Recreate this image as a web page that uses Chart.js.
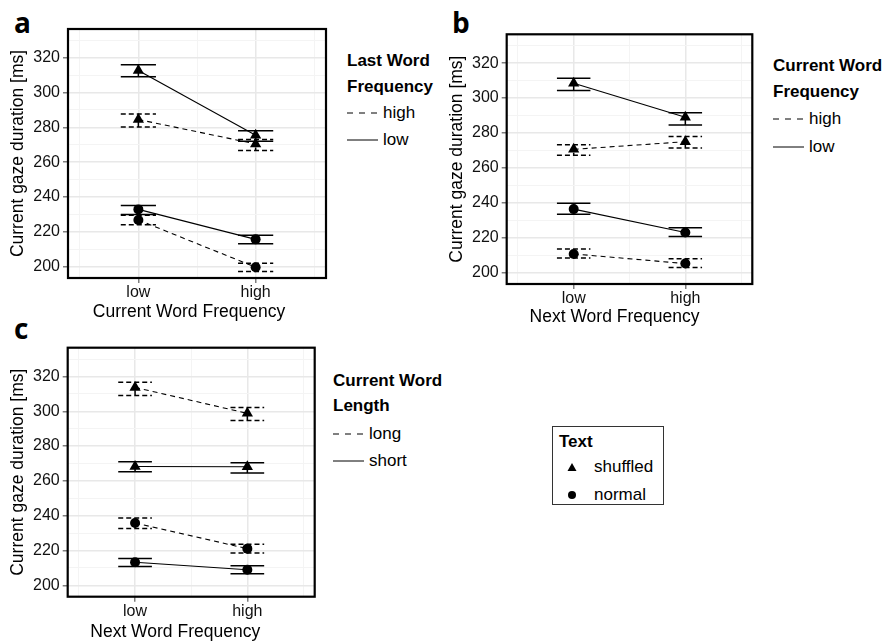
<!DOCTYPE html>
<html>
<head>
<meta charset="utf-8">
<script src="https://cdn.jsdelivr.net/npm/chart.js@4.4.1/dist/chart.umd.min.js"></script>
<style>
  body { margin: 0; background: #fff; width: 887px; height: 642px; position: relative; overflow: hidden;
         font-family: "Liberation Sans", Arial, sans-serif; color: #000; }
  canvas { position: absolute; }
  .tag { position: absolute; font-family: "Open Sans", sans-serif; font-weight: 700; font-size: 28px; line-height: 28px; }
  .lg { position: absolute; font-size: 17px; line-height: 20px; white-space: nowrap; }
  .lg.t { font-weight: 700; }
  .box { position: absolute; border: 1px solid #333; }
</style>
</head>
<body>

<div class="tag" style="left:14px;top:8px">a</div>
<div class="tag" style="left:452px;top:8px">b</div>
<div class="tag" style="left:14px;top:314px">c</div>

<canvas id="chartA" width="340" height="330" style="left:0;top:0"></canvas>
<canvas id="chartB" width="330" height="330" style="left:440px;top:0"></canvas>
<canvas id="chartC" width="330" height="322" style="left:0;top:320px"></canvas>

<!-- legends -->
<div class="lg t" style="left:347px;top:51px">Last Word</div>
<div class="lg t" style="left:347px;top:77px">Frequency</div>
<div class="lg" style="left:383px;top:103px">high</div>
<div class="lg" style="left:383px;top:130px">low</div>
<svg style="position:absolute;left:347px;top:111px" width="31" height="4"><line x1="0" y1="2" x2="31" y2="2" stroke="#000" stroke-width="1" stroke-dasharray="6,6"/></svg>
<svg style="position:absolute;left:347px;top:138px" width="31" height="4"><line x1="0" y1="2" x2="31" y2="2" stroke="#000" stroke-width="1"/></svg>

<div class="lg t" style="left:773px;top:56px">Current Word</div>
<div class="lg t" style="left:773px;top:82px">Frequency</div>
<div class="lg" style="left:809px;top:109px">high</div>
<div class="lg" style="left:809px;top:137px">low</div>
<svg style="position:absolute;left:773px;top:117px" width="31" height="4"><line x1="0" y1="2" x2="31" y2="2" stroke="#000" stroke-width="1" stroke-dasharray="6,6"/></svg>
<svg style="position:absolute;left:773px;top:145px" width="31" height="4"><line x1="0" y1="2" x2="31" y2="2" stroke="#000" stroke-width="1"/></svg>

<div class="lg t" style="left:333px;top:371px">Current Word</div>
<div class="lg t" style="left:333px;top:396px">Length</div>
<div class="lg" style="left:369px;top:424px">long</div>
<div class="lg" style="left:369px;top:451px">short</div>
<svg style="position:absolute;left:333px;top:432px" width="31" height="4"><line x1="0" y1="2" x2="31" y2="2" stroke="#000" stroke-width="1" stroke-dasharray="6,6"/></svg>
<svg style="position:absolute;left:333px;top:459px" width="31" height="4"><line x1="0" y1="2" x2="31" y2="2" stroke="#000" stroke-width="1"/></svg>

<div class="box" style="left:552px;top:426px;width:110px;height:77px"></div>
<div class="lg t" style="left:559px;top:432px">Text</div>
<svg style="position:absolute;left:567px;top:462px" width="10" height="10"><polygon points="5,1 9.5,9 0.5,9" fill="#000"/></svg>
<div class="lg" style="left:594px;top:457px">shuffled</div>
<svg style="position:absolute;left:567px;top:490px" width="10" height="10"><circle cx="5" cy="5" r="4" fill="#000"/></svg>
<div class="lg" style="left:594px;top:485px">normal</div>

<script>
const X_CATS = ['low', 'high'];
const X_MINOR = [0.5, 1.5, 2.5];
const Y_MAJOR = [200, 220, 240, 260, 280, 300, 320];
const Y_MINOR = [210, 230, 250, 270, 290, 310, 330];
const Y_TITLE = 'Current gaze duration [ms]';

// panel a: x = current word frequency, lines = last word frequency
const A_SHUF_LOW = [312.7, 275.5];
const A_SHUF_LOW_LO = [309.1, 272.0];
const A_SHUF_LOW_HI = [316.0, 278.0];
const A_SHUF_HIGH = [284.5, 270.5];
const A_SHUF_HIGH_LO = [280.2, 266.7];
const A_SHUF_HIGH_HI = [287.7, 273.0];
const A_NORM_LOW = [232.9, 215.7];
const A_NORM_LOW_LO = [230.0, 213.2];
const A_NORM_LOW_HI = [235.2, 218.0];
const A_NORM_HIGH = [226.8, 199.7];
const A_NORM_HIGH_LO = [224.1, 197.2];
const A_NORM_HIGH_HI = [229.5, 202.0];

// panel b: x = next word frequency, lines = current word frequency
const B_SHUF_LOW = [308.5, 289.0];
const B_SHUF_LOW_LO = [304.3, 284.6];
const B_SHUF_LOW_HI = [311.4, 291.6];
const B_SHUF_HIGH = [270.6, 275.0];
const B_SHUF_HIGH_LO = [267.2, 271.4];
const B_SHUF_HIGH_HI = [273.3, 277.9];
const B_NORM_LOW = [236.4, 223.0];
const B_NORM_LOW_LO = [233.5, 220.7];
const B_NORM_LOW_HI = [239.8, 225.7];
const B_NORM_HIGH = [210.7, 205.2];
const B_NORM_HIGH_LO = [208.4, 203.0];
const B_NORM_HIGH_HI = [213.5, 207.9];

// panel c: x = next word frequency, lines = current word length
const C_SHUF_LONG = [313.7, 298.8];
const C_SHUF_LONG_LO = [309.1, 294.7];
const C_SHUF_LONG_HI = [316.7, 302.2];
const C_SHUF_SHORT = [268.3, 268.1];
const C_SHUF_SHORT_LO = [265.3, 264.5];
const C_SHUF_SHORT_HI = [271.0, 270.4];
const C_NORM_LONG = [235.8, 221.1];
const C_NORM_LONG_LO = [232.6, 218.6];
const C_NORM_LONG_HI = [238.7, 223.6];
const C_NORM_SHORT = [213.3, 209.0];
const C_NORM_SHORT_LO = [210.8, 206.7];
const C_NORM_SHORT_HI = [215.5, 211.3];

const CAP = 0.15;   // half width of error bar caps, in x units
const DASH = [5, 4];

function series(label, values, lo, hi, marker, dashed) {
    return {
        label: label,
        data: values.map((v, i) => ({x: i + 1, y: v, lo: lo[i], hi: hi[i]})),
        borderColor: '#000',
        backgroundColor: '#000',
        borderWidth: 1.1,
        borderDash: dashed ? DASH : [],
        pointStyle: marker,
        pointRadius: marker === 'triangle' ? 6.5 : 5,
        pointBorderWidth: 0,
        pointBackgroundColor: '#000',
        dashed: dashed
    };
}

const errorBars = {
    id: 'errorBars',
    beforeDatasetsDraw(chart) {
        const ctx = chart.ctx;
        const xs = chart.scales.x;
        const ys = chart.scales.y;
        ctx.save();
        ctx.strokeStyle = '#000';
        ctx.lineWidth = 1.5;
        chart.data.datasets.forEach((ds) => {
            ctx.setLineDash(ds.dashed ? [5, 3] : []);
            ds.data.forEach((p) => {
                const x0 = xs.getPixelForValue(p.x - CAP);
                const x1 = xs.getPixelForValue(p.x + CAP);
                const xc = xs.getPixelForValue(p.x);
                const yl = ys.getPixelForValue(p.lo);
                const yh = ys.getPixelForValue(p.hi);
                ctx.beginPath();
                ctx.moveTo(x0, yh); ctx.lineTo(x1, yh);
                ctx.moveTo(x0, yl); ctx.lineTo(x1, yl);
                ctx.moveTo(xc, yh); ctx.lineTo(xc, yl);
                ctx.stroke();
            });
        });
        ctx.restore();
    }
};

// black frame round the panel, plus the x axis title (placed off-centre as in the figure)
const panelBox = {
    id: 'panelBox',
    afterDraw(chart, args, opts) {
        const a = chart.chartArea;
        const ctx = chart.ctx;
        ctx.save();
        ctx.strokeStyle = '#000';
        ctx.lineWidth = 2.2;
        ctx.strokeRect(a.left, a.top, a.right - a.left, a.bottom - a.top);
        ctx.fillStyle = '#000';
        ctx.font = '17.5px "Liberation Sans", Arial, sans-serif';
        ctx.textAlign = 'center';
        ctx.textBaseline = 'middle';
        ctx.fillText(opts.xTitle, (a.left + a.right) / 2 + opts.dx, a.bottom + opts.dy);
        ctx.restore();
    }
};

function makeChart(id, p, xTitle, datasets) {
    const yTicks = [...Y_MAJOR, ...Y_MINOR].sort((a, b) => a - b);
    const xTicks = [...X_MINOR, 1, 2].sort((a, b) => a - b);
    const isMajorX = (v) => v === 1 || v === 2;
    return new Chart(document.getElementById(id), {
        type: 'line',
        data: {datasets: datasets},
        plugins: [errorBars, panelBox],
        options: {
            responsive: false,
            animation: false,
            layout: {padding: p.padding},
            plugins: {
                legend: {display: false},
                tooltip: {enabled: false},
                panelBox: {xTitle: xTitle, dx: p.titleDx, dy: p.titleDy}
            },
            scales: {
                x: {
                    type: 'linear',
                    min: 0.4,
                    max: 2.6,
                    afterBuildTicks: (s) => { s.ticks = xTicks.map((v) => ({value: v})); },
                    afterFit: (s) => { s.height = p.xHeight; },
                    border: {display: false},
                    grid: {
                        color: (c) => isMajorX(c.tick.value) ? '#e8e8e8' : '#f4f4f4',
                        lineWidth: (c) => isMajorX(c.tick.value) ? 1.5 : 1,
                        tickColor: (c) => isMajorX(c.tick.value) ? '#7f7f7f' : 'rgba(0,0,0,0)',
                        tickLength: 5
                    },
                    ticks: {
                        autoSkip: false,
                        maxRotation: 0,
                        padding: 0,
                        color: '#111',
                        font: {family: 'Liberation Sans', size: 16},
                        callback: (v) => isMajorX(v) ? X_CATS[v - 1] : ''
                    }
                },
                y: {
                    min: 193.5,
                    max: 336.5,
                    afterBuildTicks: (s) => { s.ticks = yTicks.map((v) => ({value: v})); },
                    afterFit: (s) => { s.width = p.yWidth; },
                    border: {display: false},
                    grid: {
                        color: (c) => Y_MAJOR.includes(c.tick.value) ? '#e8e8e8' : '#f4f4f4',
                        lineWidth: (c) => Y_MAJOR.includes(c.tick.value) ? 1.5 : 1,
                        tickColor: (c) => Y_MAJOR.includes(c.tick.value) ? '#7f7f7f' : 'rgba(0,0,0,0)',
                        tickLength: 5
                    },
                    ticks: {
                        autoSkip: false,
                        padding: 3,
                        color: '#111',
                        font: {family: 'Liberation Sans', size: 16},
                        callback: (v) => Y_MAJOR.includes(v) ? String(v) : ''
                    },
                    title: {
                        display: true,
                        text: Y_TITLE,
                        color: '#000',
                        font: {family: 'Liberation Sans', size: 17.5, lineHeight: 1},
                        padding: {top: p.yTitlePad, bottom: 0}
                    }
                }
            }
        }
    });
}

makeChart('chartA', {
    padding: {left: 0, top: 29, right: 14, bottom: 2},
    yWidth: 68, xHeight: 50, titleDx: -8, titleDy: 33.7, yTitlePad: 9.5
}, 'Current Word Frequency', [
    series('shuffled, low', A_SHUF_LOW, A_SHUF_LOW_LO, A_SHUF_LOW_HI, 'triangle', false),
    series('shuffled, high', A_SHUF_HIGH, A_SHUF_HIGH_LO, A_SHUF_HIGH_HI, 'triangle', true),
    series('normal, low', A_NORM_LOW, A_NORM_LOW_LO, A_NORM_LOW_HI, 'circle', false),
    series('normal, high', A_NORM_HIGH, A_NORM_HIGH_LO, A_NORM_HIGH_HI, 'circle', true)
]);

makeChart('chartB', {
    padding: {left: 0, top: 34.3, right: 17.7, bottom: 2},
    yWidth: 66.7, xHeight: 44, titleDx: -15, titleDy: 32.7, yTitlePad: 8.3
}, 'Next Word Frequency', [
    series('shuffled, low', B_SHUF_LOW, B_SHUF_LOW_LO, B_SHUF_LOW_HI, 'triangle', false),
    series('shuffled, high', B_SHUF_HIGH, B_SHUF_HIGH_LO, B_SHUF_HIGH_HI, 'triangle', true),
    series('normal, low', B_NORM_LOW, B_NORM_LOW_LO, B_NORM_LOW_HI, 'circle', false),
    series('normal, high', B_NORM_HIGH, B_NORM_HIGH_LO, B_NORM_HIGH_HI, 'circle', true)
]);

makeChart('chartC', {
    padding: {left: 0, top: 27.7, right: 15.3, bottom: 1.3},
    yWidth: 67.7, xHeight: 44, titleDx: -16, titleDy: 35, yTitlePad: 9.3
}, 'Next Word Frequency', [
    series('shuffled, long', C_SHUF_LONG, C_SHUF_LONG_LO, C_SHUF_LONG_HI, 'triangle', true),
    series('shuffled, short', C_SHUF_SHORT, C_SHUF_SHORT_LO, C_SHUF_SHORT_HI, 'triangle', false),
    series('normal, long', C_NORM_LONG, C_NORM_LONG_LO, C_NORM_LONG_HI, 'circle', true),
    series('normal, short', C_NORM_SHORT, C_NORM_SHORT_LO, C_NORM_SHORT_HI, 'circle', false)
]);
</script>
</body>
</html>
